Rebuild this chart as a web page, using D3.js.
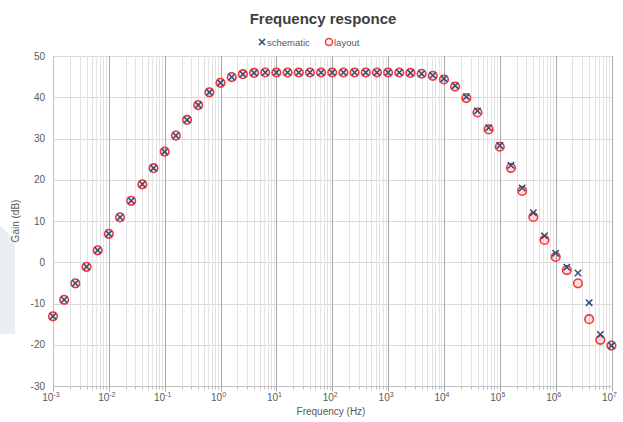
<!DOCTYPE html>
<html>
<head>
<meta charset="utf-8">
<script src="https://cdn.jsdelivr.net/npm/d3@7"></script>
<style>
  body { margin: 0; background: #fff; }
  text { font-family: "Liberation Sans", Arial, sans-serif; }
</style>
</head>
<body>
<script>
// frequency points (Hz), 5 per decade
var freqs = [
  1e-3, 1.585e-3, 2.512e-3, 3.981e-3, 6.310e-3,
  1e-2, 1.585e-2, 2.512e-2, 3.981e-2, 6.310e-2,
  1e-1, 1.585e-1, 2.512e-1, 3.981e-1, 6.310e-1,
  1e0, 1.585e0, 2.512e0, 3.981e0, 6.310e0,
  1e1, 1.585e1, 2.512e1, 3.981e1, 6.310e1,
  1e2, 1.585e2, 2.512e2, 3.981e2, 6.310e2,
  1e3, 1.585e3, 2.512e3, 3.981e3, 6.310e3,
  1e4, 1.585e4, 2.512e4, 3.981e4, 6.310e4,
  1e5, 1.585e5, 2.512e5, 3.981e5, 6.310e5,
  1e6, 1.585e6, 2.512e6, 3.981e6, 6.310e6,
  1e7
];

var schematicGain = [
  -13.1, -9.1, -5.1, -1.1, 2.9,
  6.9, 10.9, 14.9, 18.9, 22.8,
  26.8, 30.7, 34.5, 38.1, 41.2,
  43.5, 44.9, 45.6, 45.9, 46.0,
  46.0, 46.0, 46.0, 46.0, 46.0,
  46.0, 46.0, 46.0, 46.0, 46.0,
  46.0, 46.0, 45.9, 45.7, 45.3,
  44.5, 42.8, 40.1, 36.7, 32.6,
  28.3, 23.5, 18.0, 12.0, 6.4,
  2.2, -1.2, -2.6, -9.8, -17.5,
  -20.2
];

var layoutGain = [
  -13.1, -9.1, -5.1, -1.1, 2.9,
  6.9, 10.9, 14.9, 18.9, 22.8,
  26.8, 30.7, 34.5, 38.1, 41.2,
  43.5, 44.9, 45.6, 45.9, 46.0,
  46.0, 46.0, 46.0, 46.0, 46.0,
  46.0, 46.0, 46.0, 46.0, 46.0,
  46.0, 46.0, 45.9, 45.7, 45.2,
  44.3, 42.6, 39.8, 36.3, 32.2,
  28.0, 22.9, 17.3, 11.0, 5.4,
  1.3, -1.9, -5.1, -13.8, -18.8,
  -20.2
];

var yTicks = [-30, -20, -10, 0, 10, 20, 30, 40, 50];
var xDecades = [-3, -2, -1, 0, 1, 2, 3, 4, 5, 6, 7];

var width = 623, height = 422;
var margin = { top: 56, right: 11, bottom: 36, left: 53 };

var svg = d3.select("body").append("svg")
    .attr("width", width)
    .attr("height", height);

// faint background shape at the left edge
svg.append("path")
    .attr("d", "M0,226 L15,240 L15,334 L0,334 Z")
    .attr("fill", "#e9eef2");

var x = d3.scaleLog()
    .domain([1e-3, 1e7])
    .range([margin.left, width - margin.right - 0.5]);

var y = d3.scaleLinear()
    .domain([-30, 50])
    .range([height - margin.bottom, margin.top]);

var minorTicks = [];
xDecades.slice(0, -1).forEach(function(e) {
  for (var m = 2; m <= 9; m++) minorTicks.push(m * Math.pow(10, e));
});
var majorTicks = xDecades.map(function(e) { return Math.pow(10, e); });

var grid = svg.append("g");

// horizontal gridlines
grid.selectAll(".hgrid")
    .data(yTicks)
    .enter()
    .append("line")
    .attr("x1", margin.left)
    .attr("x2", x(1e7))
    .attr("y1", function(d) { return Math.round(y(d)) + 0.5; })
    .attr("y2", function(d) { return Math.round(y(d)) + 0.5; })
    .attr("stroke", "#d9d9d9")
    .attr("stroke-width", 1);

// minor vertical gridlines
grid.selectAll(".vminor")
    .data(minorTicks)
    .enter()
    .append("line")
    .attr("x1", function(d) { return Math.round(x(d)) + 0.5; })
    .attr("x2", function(d) { return Math.round(x(d)) + 0.5; })
    .attr("y1", y(50))
    .attr("y2", y(-30))
    .attr("stroke", "#e3e3e3")
    .attr("stroke-width", 1);

// major vertical gridlines
grid.selectAll(".vmajor")
    .data(majorTicks)
    .enter()
    .append("line")
    .attr("x1", function(d) { return Math.round(x(d)) + 0.5; })
    .attr("x2", function(d) { return Math.round(x(d)) + 0.5; })
    .attr("y1", y(50))
    .attr("y2", y(-30))
    .attr("stroke", "#a8a8a8")
    .attr("stroke-width", 1);

// bottom axis line + ticks
var by = Math.round(y(-30)) + 0.5;
svg.append("line")
    .attr("x1", margin.left).attr("x2", x(1e7))
    .attr("y1", by).attr("y2", by)
    .attr("stroke", "#bfbfbf");

svg.selectAll(".mtick")
    .data(minorTicks)
    .enter()
    .append("line")
    .attr("x1", function(d) { return Math.round(x(d)) + 0.5; })
    .attr("x2", function(d) { return Math.round(x(d)) + 0.5; })
    .attr("y1", by)
    .attr("y2", by + 3)
    .attr("stroke", "#bfbfbf");

svg.selectAll(".Mtick")
    .data(majorTicks)
    .enter()
    .append("line")
    .attr("x1", function(d) { return Math.round(x(d)) + 0.5; })
    .attr("x2", function(d) { return Math.round(x(d)) + 0.5; })
    .attr("y1", by)
    .attr("y2", by + 5)
    .attr("stroke", "#a8a8a8");

// left axis line
svg.append("line")
    .attr("x1", margin.left + 0.5).attr("x2", margin.left + 0.5)
    .attr("y1", y(50)).attr("y2", y(-30))
    .attr("stroke", "#bfbfbf");

// y tick labels
svg.selectAll(".ylab")
    .data(yTicks)
    .enter()
    .append("text")
    .attr("x", margin.left - 8)
    .attr("y", function(d) { return y(d) + 3.5; })
    .attr("text-anchor", "end")
    .attr("font-size", "10px")
    .attr("fill", "#595959")
    .text(function(d) { return d; });

// x tick labels 10^n
var xl = svg.selectAll(".xlab")
    .data(xDecades)
    .enter()
    .append("text")
    .attr("x", function(d) { return x(Math.pow(10, d)) - 2; })
    .attr("y", by + 14)
    .attr("text-anchor", "middle")
    .attr("font-size", "10px")
    .attr("fill", "#595959");
xl.append("tspan").text("10");
xl.append("tspan")
    .attr("dy", -4)
    .attr("font-size", "7px")
    .text(function(d) { return d < 0 ? "-" + (-d) : d; });

// axis titles
svg.append("text")
    .attr("transform", "translate(19," + y(10) + ") rotate(-90)")
    .attr("text-anchor", "middle")
    .attr("font-size", "10px")
    .attr("fill", "#595959")
    .text("Gain (dB)");

svg.append("text")
    .attr("x", 331)
    .attr("y", 415)
    .attr("text-anchor", "middle")
    .attr("font-size", "10px")
    .attr("fill", "#595959")
    .text("Frequency (Hz)");

// title
svg.append("text")
    .attr("x", 323)
    .attr("y", 24)
    .attr("text-anchor", "middle")
    .attr("font-size", "15px")
    .attr("font-weight", "bold")
    .attr("fill", "#404040")
    .text("Frequency responce");

// legend
var blue = "#2f4b7c", red = "#f0393a";
var lg = svg.append("g");
function xMark(sel, cx, cy, s) {
  sel.append("path")
      .attr("d", "M" + (cx - s) + "," + (cy - s) + "L" + (cx + s) + "," + (cy + s) +
                 "M" + (cx - s) + "," + (cy + s) + "L" + (cx + s) + "," + (cy - s))
      .attr("stroke", blue)
      .attr("stroke-width", 1.6)
      .attr("fill", "none");
}
xMark(lg, 262, 42, 3);
lg.append("text").attr("x", 267).attr("y", 45.5)
    .attr("font-size", "9.5px").attr("fill", "#595959").text("schematic");
lg.append("circle").attr("cx", 329).attr("cy", 42).attr("r", 3.5)
    .attr("fill", "none").attr("stroke", red).attr("stroke-width", 1.5);
lg.append("text").attr("x", 334).attr("y", 45.5)
    .attr("font-size", "9.5px").attr("fill", "#595959").text("layout");

// data points
var layoutData = freqs.map(function(f, i) { return { f: f, g: layoutGain[i] }; });
var schemData = freqs.map(function(f, i) { return { f: f, g: schematicGain[i] }; });

svg.selectAll(".lay")
    .data(layoutData)
    .enter()
    .append("circle")
    .attr("cx", function(d) { return x(d.f); })
    .attr("cy", function(d) { return y(d.g); })
    .attr("r", 4.3)
    .attr("fill", "rgba(240,57,58,0.15)")
    .attr("stroke", red)
    .attr("stroke-width", 1.6);

svg.selectAll(".sch")
    .data(schemData)
    .enter()
    .append("path")
    .attr("d", function(d) {
      var cx = x(d.f), cy = y(d.g), s = 3.2;
      return "M" + (cx - s) + "," + (cy - s) + "L" + (cx + s) + "," + (cy + s) +
             "M" + (cx - s) + "," + (cy + s) + "L" + (cx + s) + "," + (cy - s);
    })
    .attr("stroke", blue)
    .attr("stroke-width", 1.5)
    .attr("fill", "none");
</script>
</body>
</html>
